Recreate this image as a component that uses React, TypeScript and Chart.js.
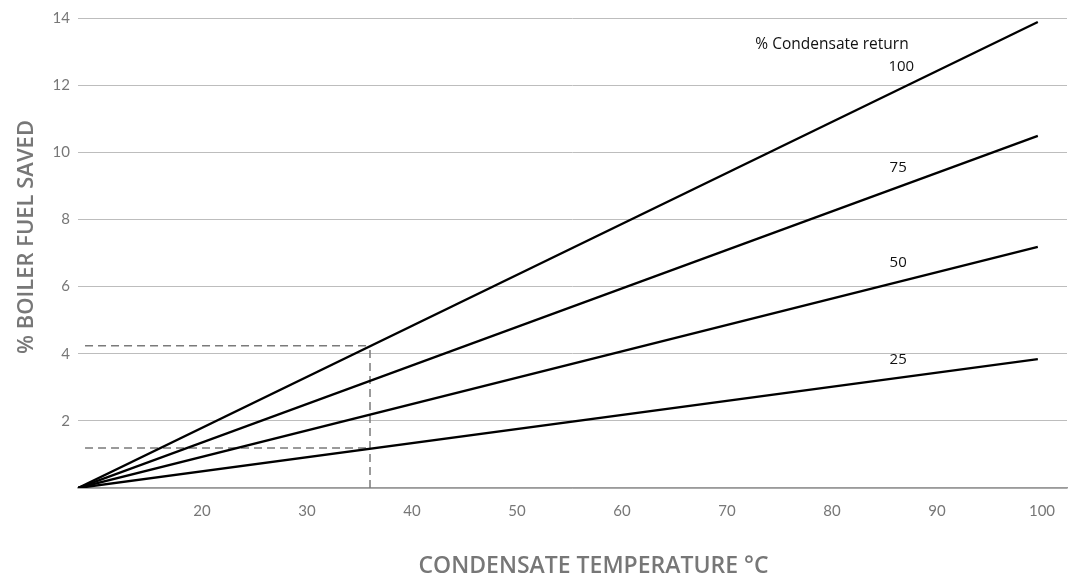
import React, { useEffect, useRef } from "react";
import { Chart, registerables } from "chart.js";

Chart.register(...registerables);

// Condensate temperature (°C) at start / end of each line
const temperatures = [8.2, 99.6];
// % boiler fuel saved for each % condensate return
const returnLabels = ["100", "75", "50", "25"];
const fuel100 = [0, 13.88];
const fuel75 = [0, 10.49];
const fuel50 = [0, 7.18];
const fuel25 = [0, 3.84];
const seriesValues = [fuel100, fuel75, fuel50, fuel25];

// Worked example (dashed reference lines)
const exampleTemp = 36;
const exampleStartTemp = 8.86;
const exampleLevels = [4.24, 1.19];

// Axis ticks
const xTicks = [20, 30, 40, 50, 60, 70, 80, 90, 100];
const yTicks = [2, 4, 6, 8, 10, 12, 14];

// Line labels positions in data units
const labelTemps = [86.6, 86.3, 86.3, 86.3];
const labelLevels = [12.54, 9.53, 6.7, 3.81];
const headerText = "% Condensate return";
const headerTemp = 80.0;
const headerLevel = 13.2;

const xTitle = "CONDENSATE TEMPERATURE °C";
const yTitle = "% BOILER FUEL SAVED";

export default function App() {
  const ref = useRef<HTMLCanvasElement | null>(null);

  useEffect(() => {
    if (!ref.current) return;

    const solid = seriesValues.map((vals, i) => ({
      label: returnLabels[i],
      data: vals.map((v, j) => ({ x: temperatures[j], y: v })),
      borderColor: "#000",
      borderWidth: 2.3,
      pointRadius: 0,
      fill: false,
      order: 0,
    }));

    const dashed = [
      ...exampleLevels.map((lv) => ({
        label: "ref" + lv,
        data: [
          { x: exampleStartTemp, y: lv },
          { x: exampleTemp, y: lv },
        ],
        borderColor: "#7a7a7a",
        borderWidth: 1.5,
        borderDash: [8, 5],
        pointRadius: 0,
        fill: false,
        order: 1,
      })),
      {
        label: "refV",
        data: [
          { x: exampleTemp, y: 0 },
          { x: exampleTemp, y: exampleLevels[0] },
        ],
        borderColor: "#7a7a7a",
        borderWidth: 1.5,
        borderDash: [8, 5],
        pointRadius: 0,
        fill: false,
        order: 1,
      },
    ];

    const textPlugin = {
      id: "texts",
      afterDatasetsDraw(chart: any) {
        const { ctx, scales, chartArea } = chart;
        const xs = scales.x;
        const ys = scales.y;
        ctx.save();
        ctx.fillStyle = "#111";
        ctx.textAlign = "center";
        ctx.textBaseline = "middle";
        ctx.font = "15.5px 'Open Sans', sans-serif";
        ctx.fillText(headerText, xs.getPixelForValue(headerTemp), ys.getPixelForValue(headerLevel));
        ctx.font = "15px 'Open Sans', sans-serif";
        returnLabels.forEach((t, i) => {
          ctx.fillText(t, xs.getPixelForValue(labelTemps[i]), ys.getPixelForValue(labelLevels[i]));
        });
        // axis titles
        ctx.fillStyle = "#777";
        ctx.font = "600 23px 'Open Sans', sans-serif";
        ctx.fillText(xTitle, (chartArea.left + chartArea.right) / 2 + 21, 566);
        ctx.translate(27, (chartArea.top + chartArea.bottom) / 2 - 16);
        ctx.rotate(-Math.PI / 2);
        ctx.font = "600 22px 'Open Sans', sans-serif";
        ctx.fillText(yTitle, 0, 0);
        ctx.restore();
      },
    };

    const chart = new Chart(ref.current, {
      type: "line",
      data: { datasets: [...solid, ...dashed] as any },
      options: {
        responsive: false,
        animation: false,
        layout: { padding: { top: 18, right: 3, left: 0, bottom: 0 } },
        plugins: {
          legend: { display: false },
          tooltip: { enabled: false },
        },
        scales: {
          x: {
            type: "linear",
            min: 8.19,
            max: 102.38,
            afterBuildTicks: (scale: any) => {
              scale.ticks = xTicks.map((v) => ({ value: v }));
            },
            afterFit: (scale: any) => {
              scale.height = 92;
            },
            grid: { display: false, drawTicks: false },
            border: { display: true, color: "#9a9a9a", width: 1.5 },
            ticks: {
              color: "#777",
              font: { family: "Lato, 'Open Sans', sans-serif", size: 15 },
              padding: 14,
              maxRotation: 0,
              autoSkip: false,
            },
          },
          y: {
            type: "linear",
            min: 0,
            max: 14,
            afterBuildTicks: (scale: any) => {
              scale.ticks = [0, ...yTicks].map((v) => ({ value: v }));
            },
            afterFit: (scale: any) => {
              scale.width = 78;
            },
            grid: { color: "#bdbdbd", lineWidth: 1, drawTicks: false },
            border: { display: false },
            ticks: {
              color: "#777",
              font: { family: "Lato, 'Open Sans', sans-serif", size: 15 },
              padding: 8,
              callback: (v: any) => (v === 0 ? "" : String(v)),
            },
          },
        },
      },
      plugins: [textPlugin],
    });
    return () => chart.destroy();
  }, []);

  return (
    <div style={{ position: "absolute", left: 0, top: 0, width: 1070, height: 580, background: "#fff" }}>
      <canvas ref={ref} width={1070} height={580} />
    </div>
  );
}
